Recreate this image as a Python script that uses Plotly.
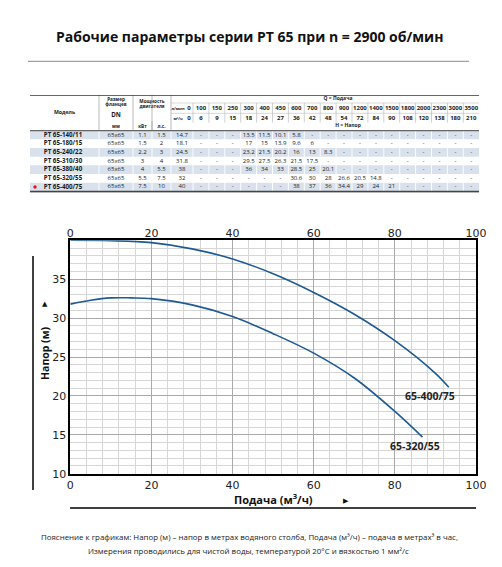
import plotly.graph_objects as go

W, H = 502, 567

# ---------------- data ----------------
title_text = "Рабочие параметры серии PT 65 при n = 2900 об/мин"

models = ["PT 65-140/11", "PT 65-180/15", "PT 65-240/22", "PT 65-310/30",
          "PT 65-380/40", "PT 65-320/55", "PT 65-400/75"]
flange = ["65x65"] * 7
power_kw = ["1.1", "1.5", "2.2", "3", "4", "5.5", "7.5"]
power_hp = ["1.5", "2", "3", "4", "5.5", "7.5", "10"]
flow_lmin = ["0", "100", "150", "250", "300", "400", "450", "600", "700", "800",
             "900", "1200", "1400", "1500", "1800", "2000", "2300", "3000", "3500"]
flow_m3h = ["0", "6", "9", "15", "18", "24", "27", "36", "42", "48",
            "54", "72", "84", "90", "108", "120", "138", "180", "210"]
head_rows = [
    ["14.7", "-", "-", "-", "13.5", "11.5", "10.1", "5.8", "-", "-", "-", "-", "-", "-", "-", "-", "-", "-", "-"],
    ["18.1", "-", "-", "-", "17", "15", "13.9", "9.6", "6", "-", "-", "-", "-", "-", "-", "-", "-", "-", "-"],
    ["24.5", "-", "-", "-", "23.2", "21.5", "20.2", "16", "13", "8.3", "-", "-", "-", "-", "-", "-", "-", "-", "-"],
    ["31.8", "-", "-", "-", "29.5", "27.5", "26.3", "21.5", "17.5", "-", "-", "-", "-", "-", "-", "-", "-", "-", "-"],
    ["38", "-", "-", "-", "36", "34", "33", "28.5", "25", "20.1", "-", "-", "-", "-", "-", "-", "-", "-", "-"],
    ["32", "-", "-", "-", "-", "-", "-", "30.6", "30", "28", "26.6", "20.5", "14.8", "-", "-", "-", "-", "-", "-"],
    ["40", "-", "-", "-", "-", "-", "-", "38", "37", "36", "34.4", "29", "24", "21", "-", "-", "-", "-", "-"],
]
highlight_row = 6   # PT 65-400/75, marked red

# curves
q_400 = [0, 10, 20, 30, 40, 50, 60, 70, 80, 90, 93.3]
h_400 = [40, 39.95, 39.7, 38.9, 37.6, 35.7, 33.3, 30.5, 27.1, 22.9, 21.1]
q_320 = [0, 5, 10, 15, 20, 30, 40, 50, 60, 70, 80, 86.8]
h_320 = [31.8, 32.3, 32.6, 32.6, 32.5, 31.7, 30.2, 28.0, 25.5, 22.3, 18.0, 14.7]
curve_names = ["65-400/75", "65-320/55"]

x_ticks = [0, 20, 40, 60, 80, 100]
y_ticks = [10, 15, 20, 25, 30, 35]

# --------------- helpers ---------------
def px(x):
    return x / W

def py(y):
    return 1 - y / H

BLUE = "#1d5a94"
TXT = "#1a1a1a"
FONT = "Open Sans"

fig = go.Figure()

# --------------- table (own hidden axes x3/y3, pixel-like units) ----------------
T_L, T_R, T_T, T_B = 22, 471.2, 87, 184.5
col_w = [69, 34, 19, 19, 22] + [15.9] * (len(flow_lmin) - 1)
bounds = [T_L]
for w in col_w:
    bounds.append(bounds[-1] + w)
centers = [(bounds[i] + bounds[i + 1]) / 2 for i in range(len(col_w))]
HDR_B = 122.7
ROW_H = 8.66
row_c = [HDR_B + ROW_H * (i + 0.5) for i in range(len(models))]

bx, by, bt = [], [], []
for r in range(len(models)):
    vals = [flange[r], power_kw[r], power_hp[r]] + head_rows[r]
    for c, v in enumerate(vals):
        bx.append(centers[c + 1]); by.append(row_c[r]); bt.append(v)
fig.add_trace(go.Scatter(x=bx, y=by, text=bt, mode="text", xaxis="x3", yaxis="y3",
                         textfont=dict(family=FONT, size=6, color=TXT),
                         showlegend=False, hoverinfo="skip", cliponaxis=False))
fig.add_trace(go.Scatter(x=[centers[0] - 1.5] * len(models), y=row_c, text=models, mode="text",
                         xaxis="x3", yaxis="y3",
                         textfont=dict(family=FONT, size=6.2, color=TXT, weight="bold"),
                         showlegend=False, hoverinfo="skip", cliponaxis=False))
fig.add_trace(go.Scatter(x=[27], y=[row_c[highlight_row]], mode="markers", xaxis="x3", yaxis="y3",
                         marker=dict(color="#e8141b", size=3.5),
                         showlegend=False, hoverinfo="skip", cliponaxis=False))

hx, hy, ht, hs = [], [], [], []
def hdr(t, x, y, s):
    hx.append(x); hy.append(y); ht.append(t); hs.append(s)
hdr("Модель", centers[0], 105, 5.2)
hdr("Размер", centers[1], 91.8, 4.6)
hdr("фланцев", centers[1], 97, 4.6)
hdr("DN", centers[1], 107.5, 6.2)
hdr("мм", centers[1], 119, 4.6)
hdr("Мощность", bounds[3], 93.5, 4.6)
hdr("двигателя", bounds[3], 98.8, 4.6)
hdr("кВт", centers[2], 119.3, 4.6)
hdr("л.с.", centers[3], 119.3, 4.6)
hdr("л/мин", centers[4] - 4, 100.5, 4)
hdr("м³/ч", centers[4] - 4, 110.5, 4)
hdr("0", centers[4] + 7, 100.3, 6)
hdr("0", centers[4] + 7, 110.3, 6)
for j in range(1, len(flow_lmin)):
    hdr(flow_lmin[j], centers[4 + j], 100.3, 6)
    hdr(flow_m3h[j], centers[4 + j], 110.3, 6)
hdr("Q = Подача", 330, 90.6, 5)
hdr("H = Напор", 340, 117.8, 5)
fig.add_trace(go.Scatter(x=hx, y=hy, text=ht, mode="text", xaxis="x3", yaxis="y3",
                         textfont=dict(family=FONT, size=hs, color=TXT, weight="bold"),
                         showlegend=False, hoverinfo="skip", cliponaxis=False))

# --------------- curves ----------------
fig.add_trace(go.Scatter(x=q_400, y=h_400, mode="lines", line=dict(color=BLUE, width=1.6, shape="spline"),
                         showlegend=False, hoverinfo="skip"))
fig.add_trace(go.Scatter(x=q_320, y=h_320, mode="lines", line=dict(color=BLUE, width=1.6, shape="spline"),
                         showlegend=False, hoverinfo="skip"))
fig.add_trace(go.Scatter(x=[-1.3], y=[39.6], mode="markers", xaxis="x2",
                         marker=dict(color="#e8141b", size=5), cliponaxis=False,
                         showlegend=False, hoverinfo="skip"))

axis_common = dict(
    range=[0, 100], tickmode="array", tickvals=x_ticks, ticks="",
    tickfont=dict(family="DejaVu Sans", size=11, color="#222"),
    zeroline=False, automargin=False, fixedrange=True,
)
fig.update_layout(
    width=W, height=H, margin=dict(l=0, r=0, t=0, b=0, autoexpand=False),
    paper_bgcolor="white", plot_bgcolor="white",
    showlegend=False,
    xaxis=dict(domain=[px(62.3), px(468)], anchor="y",
               showgrid=True, gridcolor="#a9a9a9", gridwidth=1.2,
               minor=dict(tickmode="linear", tick0=0, dtick=4, showgrid=True,
                          gridcolor="#d6d6d6", gridwidth=1),
               showline=True, linecolor="black", linewidth=1.5, mirror=True,
               **axis_common),
    xaxis2=dict(overlaying="x", side="top", anchor="y", matches="x",
                showgrid=False, showline=False, **axis_common),
    yaxis=dict(domain=[py(465.7), py(232.3)], range=[10, 40], anchor="x",
               tickmode="array", tickvals=y_ticks, ticks="",
               tickfont=dict(family="DejaVu Sans", size=11, color="#222"),
               showgrid=True, gridcolor="#a9a9a9", gridwidth=1.2,
               minor=dict(tickmode="linear", tick0=10, dtick=1, showgrid=True,
                          gridcolor="#d6d6d6", gridwidth=1),
               showline=True, linecolor="black", linewidth=1.5, mirror=True,
               zeroline=False, automargin=False, fixedrange=True),
    xaxis3=dict(domain=[px(T_L), px(T_R)], range=[T_L, T_R], anchor="y3", visible=False,
                automargin=False, fixedrange=True),
    yaxis3=dict(domain=[py(T_B), py(T_T)], range=[T_B, T_T], anchor="x3", visible=False,
                automargin=False, fixedrange=True),
)

ann = []
ann.append(dict(text="<b>" + title_text + "</b>", x=px(241), y=py(28), xref="paper", yref="paper",
                showarrow=False, font=dict(family=FONT, size=14, color="#111"), xanchor="center", yanchor="middle"))
for t, x, y in [(curve_names[0], 88.7, 20.0), (curve_names[1], 85.0, 13.6)]:
    ann.append(dict(text="<b>" + t + "</b>", x=x, y=y, xref="x", yref="y", showarrow=False,
                    font=dict(family=FONT, size=10.5, color="#222"), xanchor="center", yanchor="middle"))
ann.append(dict(text="<b>Напор (м)</b>", x=px(37), y=py(345), xref="paper", yref="paper",
                showarrow=False, textangle=-90, font=dict(family=FONT, size=10.5, color="#111"),
                xanchor="center", yanchor="middle"))
ann.append(dict(text="▲", x=px(36.5), y=py(296), xref="paper", yref="paper", showarrow=False,
                font=dict(family="DejaVu Sans", size=7, color="#111"), xanchor="center", yanchor="middle"))
ann.append(dict(text="<b>Подача (м<sup>3</sup>/ч)</b>", x=px(265), y=py(491), xref="paper", yref="paper",
                showarrow=False, font=dict(family=FONT, size=11, color="#111"),
                xanchor="center", yanchor="middle"))
ann.append(dict(text="▶", x=px(338), y=py(493), xref="paper", yref="paper", showarrow=False,
                font=dict(family="DejaVu Sans", size=7, color="#111"), xanchor="center", yanchor="middle"))
ann.append(dict(text="Пояснение к графикам: Напор (м) – напор в метрах водяного столба, Подача (м³/ч) – подача в метрах³ в час,",
                x=px(241.5), y=py(529), xref="paper", yref="paper", showarrow=False,
                font=dict(family=FONT, size=7.9, color="#222"), xanchor="center", yanchor="middle"))
ann.append(dict(text="Измерения проводились для чистой воды, температурой 20°С и вязкостью 1 мм²/с",
                x=px(240.5), y=py(543), xref="paper", yref="paper", showarrow=False,
                font=dict(family=FONT, size=7.9, color="#222"), xanchor="center", yanchor="middle"))
fig.update_layout(annotations=ann)

shapes = []
def line(x0, y0, x1, y1, color, w, ref="paper", layer="above"):
    if ref == "paper":
        shapes.append(dict(type="line", xref="paper", yref="paper", x0=px(x0), x1=px(x1),
                           y0=py(y0), y1=py(y1), line=dict(color=color, width=w), layer=layer))
    else:
        shapes.append(dict(type="line", xref="x3", yref="y3", x0=x0, x1=x1, y0=y0, y1=y1,
                           line=dict(color=color, width=w), layer=layer))

shade = "#d9e2ec"
for r in range(len(models)):
    if r % 2 == 0:
        shapes.append(dict(type="rect", xref="x3", yref="y3", x0=T_L, x1=T_R,
                           y0=HDR_B + ROW_H * r, y1=HDR_B + ROW_H * (r + 1),
                           fillcolor=shade, line=dict(width=0), layer="below"))
for b in bounds[1:-1]:
    line(b, HDR_B, b, HDR_B + ROW_H * len(models), "white", 0.9, ref="x3", layer="below")
for b in bounds[1:4]:
    line(b, T_T, b, HDR_B, "#8a8a8a", 0.6, ref="x3")
line(bounds[4], T_T, bounds[4], HDR_B, "#8a8a8a", 0.6, ref="x3")
line(bounds[3], 113, bounds[3], HDR_B, "#8a8a8a", 0.5, ref="x3")
for b in bounds[5:-1]:
    line(b, 95, b, 114.5, "#a0a0a0", 0.5, ref="x3")
line(bounds[4], 105.3, T_R, 105.3, "#b0b0b0", 0.5, ref="x3")
line(bounds[4], 95, T_R, 95, "#b0b0b0", 0.5, ref="x3")
line(T_L, T_T, T_R, T_T, "#333", 1.3, ref="x3")
line(T_L, HDR_B, T_R, HDR_B, "#666", 1.2, ref="x3")
line(T_L, T_B - 0.8, T_R, T_B - 0.8, "#444", 2, ref="x3")

line(20, 53.3, 461, 53.3, "#8a8a8a", 1)     # under title
line(25, 248, 25, 482, "black", 1.5)        # y title rule
line(62, 500, 468, 500, "black", 1.5)       # x title rule
fig.update_layout(shapes=shapes)

fig.write_html("out.html")
